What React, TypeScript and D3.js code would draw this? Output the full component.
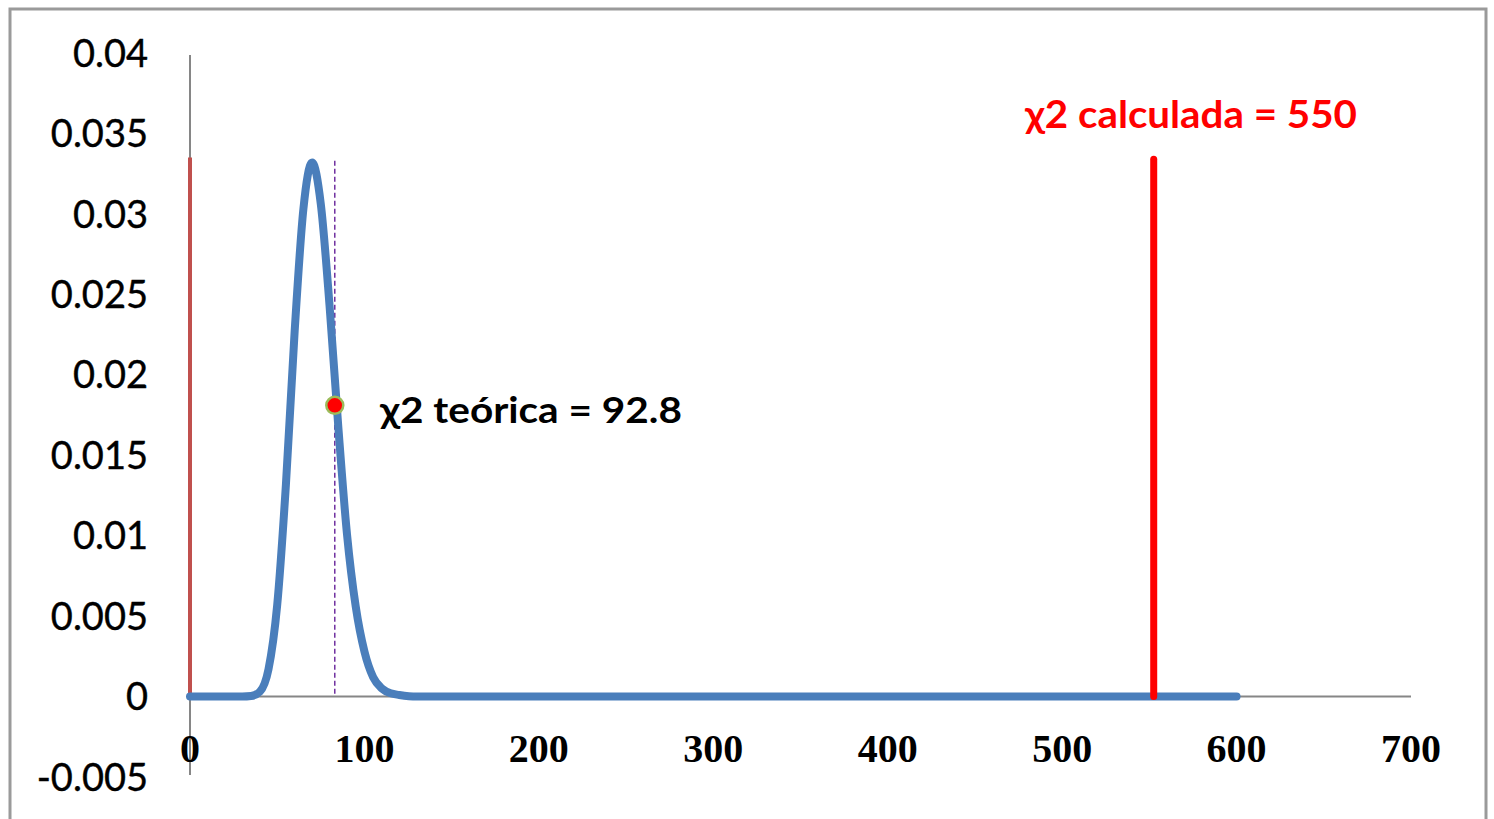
import React, { useEffect } from 'react'
import * as d3 from 'd3'

const width = 1494
const height = 819

// chi-square density curve
const curveX = [0, 30, 35, 40, 45, 50, 55, 60, 65, 70, 75, 80, 85, 90, 95, 100, 105, 110, 115, 120, 130, 600]
const curveY = [
  0, 0, 0.00003, 0.0003, 0.0017, 0.0057, 0.0132, 0.0227, 0.0303, 0.0332, 0.0306, 0.0243, 0.0168, 0.0101,
  0.0056, 0.0028, 0.0012, 0.0005, 0.0002, 0.0001, 0, 0,
]

const xTicks = [0, 100, 200, 300, 400, 500, 600, 700]
const yTicks = [-0.005, 0, 0.005, 0.01, 0.015, 0.02, 0.025, 0.03, 0.035, 0.04]
const yTickLabels = ['-0.005', '0', '0.005', '0.01', '0.015', '0.02', '0.025', '0.03', '0.035', '0.04']

// markers
const leftBar = { x: 0, top: 0.0335 }
const calcBar = { x: 552.5, top: 0.0334, label: 'χ2 calculada = 550' }
const theoPoint = { x: 83, y: 0.0181, top: 0.0333, label: 'χ2 teórica = 92.8' }

export default function App() {
  useEffect(() => {
    document.body.style.margin = '0'
  }, [])

  const x = d3.scaleLinear().domain([0, 700]).range([190, 1411])
  const y = d3.scaleLinear().domain([-0.005, 0.04]).range([777, 53])

  const line = d3
    .line<number>()
    .x((d, i) => x(curveX[i]))
    .y((d) => y(d))
    .curve(d3.curveMonotoneX)

  const sans = 'Lato, "Liberation Sans", sans-serif'
  const serif = '"Liberation Serif", "DejaVu Serif", serif'

  return (
    <svg width={width} height={height} style={{ display: 'block', background: '#fff' }}>
      <rect x={10} y={9} width={1476} height={840} fill="#fff" stroke="#9a9a9a" strokeWidth={3} />

      {/* axes */}
      <line x1={x(0)} x2={x(0)} y1={y(0.04) + 2} y2={y(-0.005) - 2} stroke="#868686" strokeWidth={2} />
      <line x1={x(0)} x2={x(700)} y1={y(0)} y2={y(0)} stroke="#868686" strokeWidth={2} />

      {yTicks.map((t, i) => (
        <text
          key={'y' + t}
          x={148}
          y={y(t)}
          dy="0.36em"
          textAnchor="end"
          fontFamily={sans}
          fontSize={38}
          fill="#000"
          stroke="#000"
          strokeWidth={0.4}
        >
          {yTickLabels[i]}
        </text>
      ))}

      {/* left red bar at 0 */}
      <line x1={x(leftBar.x)} x2={x(leftBar.x)} y1={y(leftBar.top)} y2={y(0)} stroke="#C0504D" strokeWidth={4} />

      {/* theoretical dashed line */}
      <line
        x1={x(theoPoint.x)}
        x2={x(theoPoint.x)}
        y1={y(theoPoint.top)}
        y2={y(0)}
        stroke="#7030A0"
        strokeWidth={1.5}
        strokeDasharray="5,3"
      />

      <path d={line(curveY) || ''} fill="none" stroke="#4A7EBB" strokeWidth={8} strokeLinecap="round" strokeLinejoin="round" />

      {/* calculated value bar */}
      <line
        x1={x(calcBar.x)}
        x2={x(calcBar.x)}
        y1={y(calcBar.top)}
        y2={y(0)}
        stroke="#FF0000"
        strokeWidth={7}
        strokeLinecap="round"
      />

      <circle cx={x(theoPoint.x)} cy={y(theoPoint.y)} r={8.5} fill="#FF0000" stroke="#9BBB59" strokeWidth={2.5} />

      {xTicks.map((t) => (
        <text
          key={'x' + t}
          x={x(t)}
          y={762}
          textAnchor="middle"
          fontFamily={serif}
          fontWeight="bold"
          fontSize={40}
          fill="#000"
        >
          {t}
        </text>
      ))}

      <text x={380} y={423} fontFamily={sans} fontWeight="bold" fontSize={36} fill="#000" textLength={302} lengthAdjust="spacingAndGlyphs">
        {theoPoint.label}
      </text>
      <text x={1025} y={128} fontFamily={sans} fontWeight="bold" fontSize={38} fill="#FF0000" textLength={332} lengthAdjust="spacingAndGlyphs">
        {calcBar.label}
      </text>
    </svg>
  )
}
